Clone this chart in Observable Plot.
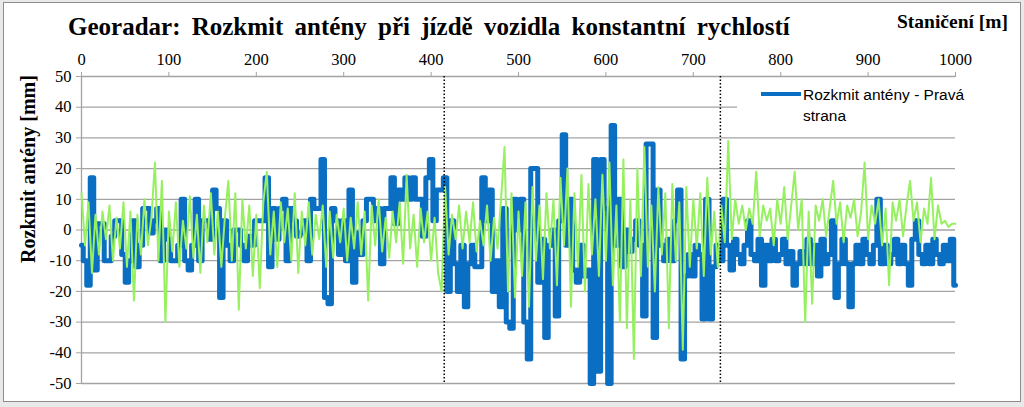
<!DOCTYPE html>
<html>
<head>
<meta charset="utf-8">
<script src="https://cdn.jsdelivr.net/npm/d3@7"></script>
<script src="https://cdn.jsdelivr.net/npm/@observablehq/plot@0.6"></script>
<style>
  html, body { margin: 0; padding: 0; background: #e9e9e9; }
  #wrap { position: relative; width: 1024px; height: 407px; overflow: hidden; }
  #frame { position: absolute; left: 3px; top: 2px; width: 1016px; height: 398px; background: #fff; border: 1px solid #8c8c8c; }
  #chart { position: absolute; left: 0; top: 0; }
  .title { position: absolute; left: 68px; top: 13px; font: bold 25px "Liberation Serif", serif; word-spacing: 5px; white-space: nowrap; color: #000; }
  .xlab { position: absolute; left: 897px; top: 11px; font: bold 19.5px "Liberation Serif", serif; white-space: nowrap; color: #000; }
  .legend { position: absolute; left: 737px; top: 80px; width: 218px; height: 48px; background: #fff; }
  .legend .sw { position: absolute; left: 24px; top: 12px; width: 40px; height: 4px; background: #0a6fc2; }
  .legend .tx { position: absolute; left: 66px; top: 4px; font: 15.5px "Liberation Sans", Arial, sans-serif; line-height: 21px; color: #000; white-space: nowrap; }
</style>
</head>
<body>
<div id="wrap">
  <div id="frame"></div>
  <div id="chart"></div>
  <div class="legend"><div class="sw"></div><div class="tx">Rozkmit antény - Pravá<br>strana</div></div>
  <div class="title">Georadar: Rozkmit antény při jízdě vozidla konstantní rychlostí</div>
  <div class="xlab">Staničení [m]</div>
</div>
<script>
// Station step (m) of the sampled series
const stationStep = 4;
// Tick labels
const xTicks = [0, 100, 200, 300, 400, 500, 600, 700, 800, 900, 1000];
const yTicks = [-50, -40, -30, -20, -10, 0, 10, 20, 30, 40, 50];
// Marker stations (dotted lines)
const markers = [415, 731];
// Blue series: Rozkmit antény - Pravá strana (mm), every 4 m from 0 to 1000
const rightSide = [
  -5, -10, -18, 17, -13, 2, 2, -10, -10, -2,
  3, 3, -8, -17, -10, 3, -12, -5, 7, 7,
  -1, 3, 7, -10, 0, -3, -10, -10, -5, 10,
  -10, -13, -5, 10, -10, 3, 3, -3, 13, 7,
  -22, 3, -5, -10, 0, 0, -5, -10, -2, -5,
  3, 3, 3, 17, -12, 7, -3, 7, 10, -10,
  7, 3, -2, -1, 3, -10, 10, 7, 7, 23,
  -22, -24, 7, 3, -8, 3, -10, 13, -17, -1,
  -8, 3, 10, 10, 3, 7, -11, 7, 7, 17,
  2, 13, 10, 17, 10, 17, 10, 10, -2, 17,
  23, 3, 13, 13, 17, -20, 3, -11, -20, -5,
  -25, -11, -5, -12, -12, 17, 3, 13, -20, -10,
  -25, 7, -30, -32, 10, 0, 10, -30, -42, 20,
  20, -17, -3, -35, -5, 0, -28, 3, 31, -5,
  10, -13, -17, -5, -15, -13, -50, 23, -46, 23,
  7, -50, 34, -5, 10, -12, 0, -7, -3, 3,
  -5, -28, 28, 28, -35, 13, -5, -10, -3, -10,
  3, 13, -42, -15, -8, -15, -5, -8, -29, 10,
  -29, -12, -5, -10, 10, -5, -13, -3, -8, -11,
  -5, 3, -8, -10, -3, -18, -5, -10, -3, -10,
  -8, -3, -11, -7, -18, -11, -7, -11, -3, -11,
  -5, -15, -3, -11, -8, 3, -22, -11, -3, -11,
  -25, -11, -5, -11, -3, -8, -11, -5, 10, -11,
  -5, -11, -8, -3, -11, -5, -11, -18, -3, 3,
  -8, -11, -5, -11, -3, -8, -11, -5, -10, -3,
  -18
];
// Green series (mm), every 4 m from 0 to 1000
const otherSide = [
  12, -5, 9, -14, 5, -8, 6, -3, 8, -10,
  4, -6, 9, -12, 6, -23, 5, -8, 10, -5,
  4, 22, -10, 16, -30, 6, -7, 9, -12, 3,
  -6, 11, -9, 5, -14, 8, -4, 12, -8, 6,
  -12, 4, 16, -10, 12, -26, 10, -6, 8, -15,
  5, -19, 9, 19, -8, 6, -12, 9, -4, 7,
  -10, 12, -14, 6, -5, 9, -8, 5, -3, 8,
  -12, 6, -9, 5, -4, 7, -10, 4, -6, 9,
  -8, 6, -23, 8, -5, 10, -7, 4, -9, 6,
  -4, 9, -11, 18, -6, 5, -12, 7, -4, 6,
  -10, 4, -14, -20, 14, -8, 5, -3, 8, -6,
  6, -4, 9, -7, 3, -5, 8, -10, 4, -6,
  10, 27, -20, 12, -22, 6, -15, 9, -25, 14,
  -10, 8, -16, 12, -6, 10, -18, 17, -5, 20,
  -25, 12, -12, 18, -20, 15, -8, 10, -15, 18,
  -10, 22, -18, 8, -30, 23, -32, 10, -42, 20,
  -15, 27, -12, 8, -20, 14, -8, 12, -32, 15,
  -10, 9, -39, 14, -12, 10, -6, 12, -15, 17,
  -8, 6, -12, 8, -4, 29, -3, 10, 2, 8,
  0, 7, 2, 19, -2, 8, 3, 7, -5, 10,
  2, 14, -3, 8, 19, 0, 10, -30, 6, -24,
  8, 3, 10, -2, 7, 16, 2, 9, -4, 8,
  4, 10, -2, 6, 22, -3, 8, 2, 10, -5,
  7, -18, 9, 3, 10, -2, 8, 16, 3, 9,
  -4, 7, 2, 17, -3, 8, 2, 3, 1, 2,
  2
];

const blueData = rightSide.map((v, i) => ({x: i * stationStep, y: v}));
const greenData = otherSide.map((v, i) => ({x: i * stationStep, y: v}));

const gridColor = "#a3a3a3";
const chart = Plot.plot({
  width: 1024,
  height: 407,
  marginLeft: 81,
  marginRight: 69,
  marginTop: 76,
  marginBottom: 24,
  style: {fontFamily: "'Liberation Serif', serif", fontSize: "16.5px", background: "transparent", color: "#000"},
  x: {domain: [0, 1000], axis: null},
  y: {domain: [-50, 50], axis: null},
  marks: [
    Plot.ruleY(yTicks, {stroke: gridColor, strokeWidth: 1.3}),
    Plot.ruleX([0], {stroke: gridColor, strokeWidth: 1.3}),
    Plot.axisX({anchor: "top", ticks: xTicks, tickSize: 5, tickPadding: 7, stroke: gridColor, fill: "#000", label: null, tickFormat: d => String(d)}),
    Plot.axisY({anchor: "left", ticks: yTicks, tickSize: 5, tickPadding: 5, stroke: gridColor, fill: "#000", label: null, tickFormat: d => String(d)}),
    Plot.lineY(blueData, {x: "x", y: "y", stroke: "#0a6fc2", strokeWidth: 5, curve: "step"}),
    Plot.lineY(greenData, {x: "x", y: "y", stroke: "#96f060", strokeWidth: 2}),
    Plot.ruleX(markers, {stroke: "#000", strokeWidth: 1.5, strokeDasharray: "1.5,2"}),
    Plot.text(["Rozkmit antény [mm]"], {frameAnchor: "left", textAnchor: "middle", dx: -53, dy: -61, rotate: -90, fontSize: 20, fontWeight: "bold", fill: "#000"})
  ]
});
document.getElementById("chart").appendChild(chart);
</script>
</body>
</html>
